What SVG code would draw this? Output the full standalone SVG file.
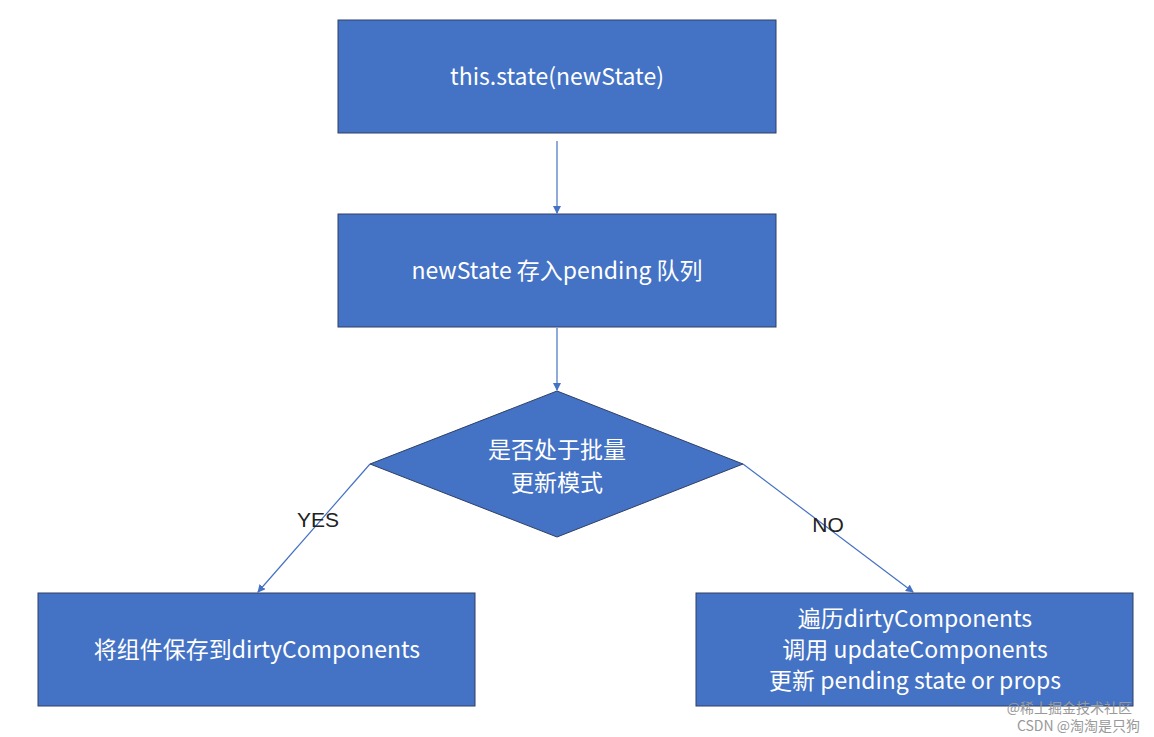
<svg xmlns="http://www.w3.org/2000/svg" width="1154" height="737" viewBox="0 0 1154 737">
<style>
.b{fill:#4472C4;stroke:#2F3F66;stroke-width:1}
.t{font-family:"Microsoft YaHei","Noto Sans CJK SC","Liberation Sans",sans-serif;font-size:23px;fill:#fff;text-anchor:middle}
.c{stroke:#4472C4;stroke-width:1.2;fill:none;marker-end:url(#a)}
.l{font-family:"Liberation Sans","Noto Sans CJK SC",sans-serif;font-size:21px;fill:#222;text-anchor:middle}
.w{font-family:"Noto Sans CJK SC",sans-serif;font-size:14px;fill:#999;text-anchor:end}
</style>
<defs><marker id="a" markerWidth="8" markerHeight="8" refX="7" refY="4" orient="auto" markerUnits="userSpaceOnUse"><path d="M0,0 L8,4 L0,8 Z" fill="#4472C4"/></marker></defs>
<rect width="1154" height="737" fill="#fff"/>
<g id="connectors">
<line class="c" x1="557" y1="141" x2="557" y2="213"/>
<line class="c" x1="557" y1="328" x2="557" y2="390"/>
<line class="c" x1="370" y1="464" x2="258" y2="592"/>
<line class="c" x1="743" y1="464" x2="913" y2="592"/>
<text class="l" x="318" y="527">YES</text>
<text class="l" x="828" y="532">NO</text>
</g>
<g id="n1"><rect class="b" x="338" y="20" width="438" height="113"/><text class="t" x="557" y="85">this.state(newState)</text></g>
<g id="n2"><rect class="b" x="338" y="214" width="438" height="113"/><text class="t" x="557" y="279">newState 存入pending 队列</text></g>
<g id="n3"><polygon class="b" points="557,391 743,464 557,537 370,464"/><text class="t" x="557" y="458">是否处于批量</text><text class="t" x="557" y="491">更新模式</text></g>
<g id="n4"><rect class="b" x="38" y="593" width="437" height="113"/><text class="t" x="257" y="658">将组件保存到dirtyComponents</text></g>
<g id="n5"><rect class="b" x="696" y="593" width="437" height="113"/><text class="t" x="915" y="627">遍历dirtyComponents</text><text class="t" x="915" y="658">调用 updateComponents</text><text class="t" x="915" y="689">更新 pending state or props</text></g>
<text class="w" x="1132" y="713">@稀土掘金技术社区</text>
<text class="w" x="1140" y="731">CSDN @淘淘是只狗</text>
</svg>
